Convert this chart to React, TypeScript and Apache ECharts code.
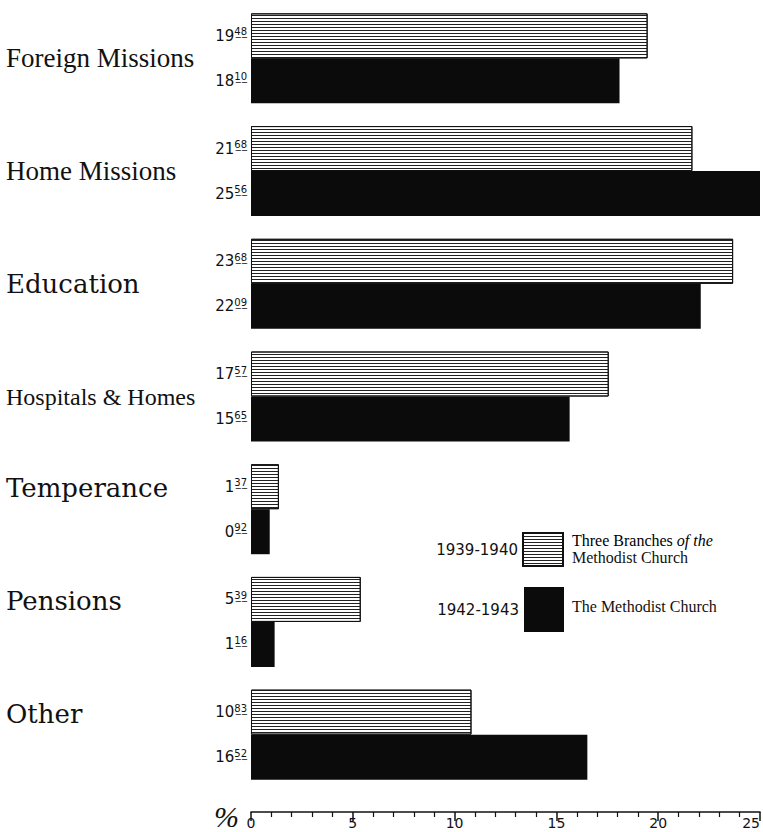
import React, { useEffect, useRef } from "react";
import * as echarts from "echarts";

const categories = ["Foreign Missions", "Home Missions", "Education", "Hospitals & Homes", "Temperance", "Pensions", "Other"];
const values1939 = [19.48, 21.68, 23.68, 17.57, 1.37, 5.39, 10.83];
const values1942 = [18.1, 25.56, 22.09, 15.65, 0.92, 1.16, 16.52];
const seriesNames = ["1939-1940", "1942-1943"];
const seriesDescriptions = [["Three Branches ", "of the", "Methodist Church"], ["The Methodist Church"]];
const categoryStyles = ["s", "s", "e", "h", "u", "u", "u"];

const underline = (s: string) => s.split("").map((c) => c + "\u0332").join("");

const valueLabel = (p: any) => {
  const [i, d] = Number(p.value).toFixed(2).split(".");
  return `{i|${i}}{d|${underline(d)}}`;
};

const valueRich = {
  i: { fontSize: 15, fontFamily: "DejaVu Sans", color: "#111" },
  d: { fontSize: 10, fontFamily: "DejaVu Sans", color: "#111", padding: [0, 0, 8, 0] },
};

export default function App() {
  const ref = useRef<HTMLDivElement>(null);
  useEffect(() => {
    document.body.style.margin = "0";
    const chart = echarts.init(ref.current!, null, { renderer: "svg" });
    chart.setOption({
      animation: false,
      backgroundColor: "#fff",
      grid: { left: 251, right: 3, top: 2, bottom: 41, containLabel: false, outerBoundsMode: "none" },
      xAxis: {
        type: "value",
        min: 0,
        max: 25,
        interval: 5,
        offset: 21,
        axisLine: { show: true, lineStyle: { color: "#111", width: 1.5 } },
        axisTick: { show: true, length: 9, lineStyle: { color: "#111", width: 1.5 } },
        minorTick: { show: true, splitNumber: 5, length: 5, lineStyle: { color: "#111", width: 1.2 } },
        splitLine: { show: false },
        minorSplitLine: { show: false },
        axisLabel: { fontSize: 14, fontFamily: "DejaVu Sans", color: "#111", margin: 4, alignMaxLabel: "right" },
      },
      yAxis: {
        type: "category",
        inverse: true,
        data: categories,
        axisLine: { show: false },
        axisTick: { show: false },
        axisLabel: {
          align: "left",
          margin: 245,
          formatter: (v: string, i: number) => `{${categoryStyles[i]}|${v}}`,
          rich: {
            s: { fontFamily: "Liberation Serif", fontSize: 27, color: "#111" },
            h: { fontFamily: "Liberation Serif", fontSize: 24, color: "#111" },
            e: { fontFamily: "DejaVu Serif", fontSize: 26, color: "#111" },
            u: { fontFamily: "DejaVu Serif", fontSize: 26, color: "#111", padding: [0, 0, 42, 0] },
          },
        },
      },
      legend: [
        {
          data: [seriesNames[0]],
          right: 199,
          top: 532,
          padding: 0,
          align: "right",
          icon: "rect",
          itemWidth: 40,
          itemHeight: 33,
          textStyle: { fontSize: 15, fontFamily: "DejaVu Sans", color: "#111" },
        },
        {
          data: [seriesNames[1]],
          right: 199,
          top: 587,
          padding: 0,
          align: "right",
          icon: "rect",
          itemWidth: 40,
          itemHeight: 45,
          textStyle: { fontSize: 15, fontFamily: "DejaVu Sans", color: "#111" },
        },
      ],
      graphic: [
        {
          type: "text",
          left: 572,
          top: 532,
          style: {
            text: `{a|${seriesDescriptions[0][0]}}{b|${seriesDescriptions[0][1]}}`,
            rich: {
              a: { fontFamily: "Liberation Serif", fontSize: 16, color: "#111" },
              b: { fontFamily: "Liberation Serif", fontStyle: "italic", fontSize: 16, color: "#111" },
            },
          },
        },
        {
          type: "text",
          left: 572,
          top: 549,
          style: { text: seriesDescriptions[0][2], fontFamily: "Liberation Serif", fontSize: 16, fill: "#111" },
        },
        {
          type: "text",
          left: 572,
          top: 598,
          style: { text: seriesDescriptions[1][0], fontFamily: "Liberation Serif", fontSize: 16, fill: "#111" },
        },
        {
          type: "text",
          left: 214,
          top: 801,
          style: { text: "%", fontFamily: "Liberation Serif", fontStyle: "italic", fontSize: 30, fill: "#111" },
        },
      ],
      series: [
        {
          name: seriesNames[0],
          type: "bar",
          data: values1939,
          barWidth: 45,
          barGap: "0%",
          itemStyle: {
            color: "#ffffff",
            borderColor: "#111",
            borderWidth: 1,
            decal: { symbol: "rect", symbolSize: 1, dashArrayX: [10, 0], dashArrayY: [1, 2], color: "#222" },
          },
          label: { show: true, position: "left", distance: 4, formatter: valueLabel, rich: valueRich },
        },
        {
          name: seriesNames[1],
          type: "bar",
          data: values1942,
          barWidth: 45,
          barGap: "0%",
          itemStyle: { color: "#0b0b0b" },
          label: { show: true, position: "left", distance: 4, formatter: valueLabel, rich: valueRich },
        },
      ],
    });
    return () => chart.dispose();
  }, []);
  return <div ref={ref} style={{ width: 763, height: 832 }} />;
}
